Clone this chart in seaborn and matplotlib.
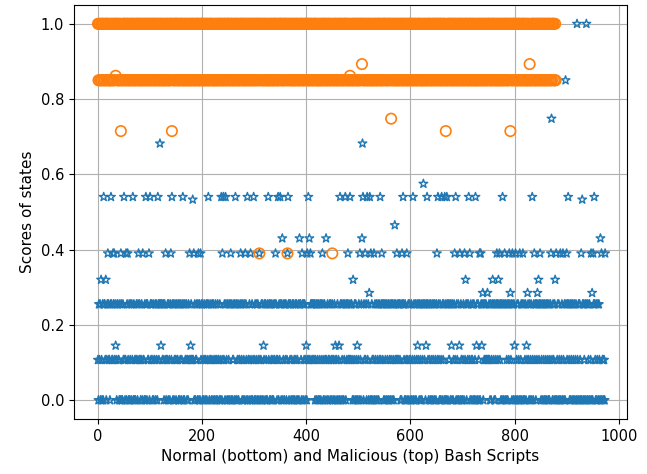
import numpy as np
import pandas as pd
import matplotlib
matplotlib.use("Agg")
import matplotlib.pyplot as plt
import seaborn as sns

# ---------------- data ----------------
# Normal scripts: most scores sit on three levels, coded 0/1/2 per script
normal_bulk_levels = [0.0, 0.107, 0.255]
normal_bulk_codes = (
    "1021201102012210012021102"
    "0211020120102211020120021"
    "2101202110201202110201012"
    "1020121012021102012021120"
    "0212102011202101212121221"
    "1202120112021020112020121"
    "0211202012012102021120102"
    "1212211212020112021020112"
    "2010210120210201120120210"
    "1201021102012021012012102"
    "0120210201120210201201120"
    "2102012012102011202102012"
    "1020120210210120201120210"
    "0211202012010212021012021"
    "1202101202120101202120102"
    "2010212010201221012021201"
    "1021212112212121201202102"
    "0120210201201210201120210"
    "2101202110201201202102012"
    "1021211212122102012021020"
    "1202102012021012021201202"
    "0210120210201202101202120"
    "2012021020120120210201212"
    "1212210201202102012012021"
    "1020120210201201202102012"
    "0212012021021020120120210"
    "2010210201202120102012021"
    "1202102012012021020120210"
    "0120210202120120210120201"
    "2012021020120210212121121"
    "1210201202102012021020120"
    "2012021020120210201201202"
    "1020120210201202102012021"
    "0210201202102012021020120"
    "2012021020120210201202102"
    "1021020120210201202102012"
    "0120210201202102012021020"
    "2102012021020120210201201"
    "0120210201202101010110101"
)
# Normal scripts with less common scores: level -> script indices
normal_rare_levels = [0.32, 0.285, 0.145, 0.39, 0.43, 0.465, 0.54, 0.533,
                      0.575, 0.682, 0.748, 0.85, 1.0]
normal_rare_idx = [
    [6, 15, 490, 706, 758, 769, 846, 878],
    [521, 739, 748, 792, 825, 844, 949],
    [34, 121, 178, 318, 400, 456, 463, 498, 614, 630, 679, 694, 727, 737, 800, 823],
    [19, 29, 31, 44, 54, 57, 78, 86, 98, 130, 140, 176, 184, 193, 197, 239, 255,
     274, 283, 293, 310, 341, 364, 392, 402, 408, 431, 480, 503, 513, 524, 530,
     545, 574, 584, 593, 651, 685, 695, 704, 714, 733, 735, 766, 771, 781, 790,
     796, 802, 810, 816, 838, 849, 870, 880, 888, 893, 900, 928, 947, 951, 967, 974],
    [354, 387, 406, 438, 507, 965],
    [570],
    [11, 25, 50, 67, 92, 100, 115, 142, 163, 212, 237, 241, 245, 264, 287, 299,
     327, 346, 350, 365, 404, 465, 475, 484, 509, 517, 522, 542, 586, 605, 632,
     653, 660, 666, 670, 687, 712, 725, 777, 834, 903, 953],
    [182, 930],
    [625],
    [119, 508],
    [871],
    [898],
    [920, 938],
]

# Malicious scripts: bulk on 1.0 (A) and 0.85 (B)
malicious_bulk_levels = {"A": 1.0, "B": 0.85}
malicious_bulk_codes = (
    "ABAABBABAABABBAABABAABBAB"
    "BAABABBAABABAABBABAABABBA"
    "AABBABAABABBAABABAABBABAA"
    "BABAABBABAABABBAABABAABBA"
    "ABBAABABAABBABAABABBAABAB"
    "BAABBABAABABBAABABAABBABA"
    "AABABBAABABAABBABAABABBAA"
    "BABBAABABAABBABAABABBAABA"
    "ABAABBABAABABBAABABAABBAB"
    "BAABABBAABABAABBABAABABBA"
    "AABBABAABABBAABABAABBABAA"
    "BABAABBABAABABBAABABAABBA"
    "ABBAABABAABBABAABABBAABAB"
    "BAABBABAABABBAABABAABBABA"
    "AABABBAABABAABBABAABABBAA"
    "BABBAABABAABBABAABABBAABA"
    "ABAABBABAABABBAABABAABBAB"
    "BAABABBAABABAABBABAABABBA"
    "AABBABAABABBAABABAABBABAA"
    "BABAABBABAABABBAABABAABBA"
    "ABBAABABAABBABAABABBAABAB"
    "BAABBABAABABBAABABAABBABA"
    "AABABBAABABAABBABAABABBAA"
    "BABBAABABAABBABAABABBAABA"
    "ABAABBABAABABBAABABAABBAB"
    "BAABABBAABABAABBABAABABBA"
    "AABBABAABABBAABABAABBABAA"
    "BABAABBABAABABBAABABAABBA"
    "ABBAABABAABBABAABABBAABAB"
    "BAABBABAABABBAABABAABBABA"
    "AABABBAABABAABBABAABABBAA"
    "BABBAABABAABBABAABABBAABA"
    "ABAABBABAABABBAABABAABBAB"
    "BAABABBAABABAABBABAABABBA"
    "AABBABAABABBAABABAABBABAA"
    "ABBAB"
)
malicious_rare_levels = [0.715, 0.748, 0.893, 0.39, 0.862]
malicious_rare_idx = [
    [44, 142, 668, 792],
    [563],
    [507, 829],
    [310, 364, 450],
    [34, 484],
]

x_label = "Normal (bottom) and Malicious (top) Bash Scripts"
y_label = "Scores of states"

# ---------------- assemble ----------------
normal_y = np.array([normal_bulk_levels[int(c)] for c in normal_bulk_codes], dtype=float)
for lvl, idxs in zip(normal_rare_levels, normal_rare_idx):
    for i in idxs:
        if i < len(normal_y):
            normal_y[i] = lvl
mal_y = np.array([malicious_bulk_levels[c] for c in malicious_bulk_codes], dtype=float)
for lvl, idxs in zip(malicious_rare_levels, malicious_rare_idx):
    for i in idxs:
        if i < len(mal_y):
            mal_y[i] = lvl

normal_df = pd.DataFrame({"script": np.arange(len(normal_y)), "score": normal_y})
mal_df = pd.DataFrame({"script": np.arange(len(mal_y)), "score": mal_y})

# ---------------- plot ----------------
fig = plt.figure(figsize=(6.47, 4.74), dpi=100)
ax = fig.add_axes([74 / 647, 1 - 419 / 474, (627 - 74) / 647, (419 - 5) / 474])

sns.scatterplot(data=normal_df, x="script", y="score", marker="*", s=42,
                facecolors="none", edgecolor="#1f77b4", linewidth=1.0, ax=ax,
                zorder=3)
sns.scatterplot(data=mal_df, x="script", y="score", marker="o", s=56,
                facecolors="none", edgecolor="#ff7f0e", linewidth=1.2, ax=ax,
                zorder=4)

ax.grid(True, color="#b0b0b0", linewidth=0.8)
ax.set_axisbelow(True)
ax.set_xlabel(x_label, fontsize=11)
ax.set_ylabel(y_label, fontsize=11)
ax.set_xticks([0, 200, 400, 600, 800, 1000])
ax.set_yticks([0.0, 0.2, 0.4, 0.6, 0.8, 1.0])
ax.tick_params(labelsize=10.5)
ax.set_xlim(-46, 1016)
ax.set_ylim(-0.05, 1.05)

fig.savefig("out.png", dpi=100)
